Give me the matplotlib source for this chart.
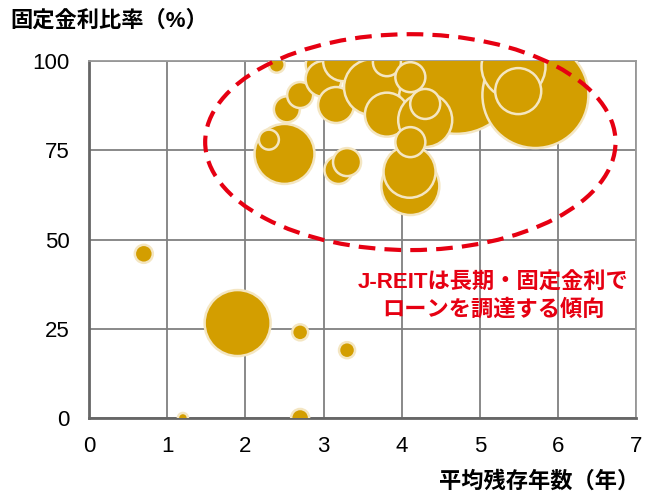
import matplotlib
matplotlib.use('agg')
from matplotlib import pyplot as plt
from matplotlib.patches import Ellipse

plt.rcParams['font.family'] = ['Liberation Sans', 'Noto Sans CJK JP', 'DejaVu Sans']

# average remaining years, fixed-rate ratio (%), relative bubble size
years = [0.7, 1.9, 2.7, 3.3, 1.2, 2.7, 2.4, 2.5, 2.3, 2.53, 2.7, 2.95,
         3.0, 3.25, 3.16, 3.19, 3.3, 4.7, 5.71, 5.43, 3.62, 3.81, 3.81, 4.11,
         4.3, 4.3, 4.11, 4.1, 4.11, 5.49]
fixed_ratio = [46, 26.6, 24, 19, 0, 0, 99, 74, 78, 86.5, 90.5, 99,
               95, 100, 87.7, 69.5, 71.7, 97, 90.5, 98.5, 92.7, 85, 99.7, 95.5,
               83.5, 88, 65, 69, 77.3, 91.6]
bubble = [9, 33, 8, 8, 5, 9, 8, 30, 10, 13, 13, 14,
          18, 20, 18, 14, 14, 62, 53, 32, 28, 22, 14, 15,
          27, 15, 29, 26, 15, 23]

x_ticks = [0, 1, 2, 3, 4, 5, 6, 7]
y_ticks = [0, 25, 50, 75, 100]

fig = plt.figure(figsize=(6.6, 4.97), dpi=100)
ax = fig.add_axes([0.135, 0.159, 0.829, 0.718])

sizes = [(1.44 * b) ** 2 for b in bubble]
ax.scatter(years, fixed_ratio, s=sizes, color='#D39E00', edgecolors='#F4E6C2',
           linewidths=1.8, zorder=3)

ax.set_xlim(0, 7)
ax.set_ylim(0, 100)
ax.set_xticks(x_ticks)
ax.set_yticks(y_ticks)
ax.tick_params(length=0, labelsize=16)
ax.tick_params(axis='y', pad=14)
ax.tick_params(axis='x', pad=13)
ax.grid(True, color='#808080', linewidth=1.3, zorder=0)
for side in ['left', 'bottom']:
    ax.spines[side].set_color('#666666')
    ax.spines[side].set_linewidth(2)
for side in ['top', 'right']:
    ax.spines[side].set_color('#999999')
    ax.spines[side].set_linewidth(1.3)

ell = Ellipse((4.11, 77.3), 5.25, 60.5, fill=False, edgecolor='#E60012',
              linewidth=3, linestyle=(0, (4, 2.2)), clip_on=False, zorder=5)
ax.add_patch(ell)

ax.text(5.17, 34.0, 'J-REITは長期・固定金利で\nローンを調達する傾向', color='#E60012',
        fontsize=16, fontweight='bold', ha='center', va='center',
        linespacing=1.3, zorder=6)

fig.text(0.016, 0.958, '固定金利比率（%）', fontsize=16, fontweight='bold',
         ha='left', va='center')
fig.text(0.968, 0.03, '平均残存年数（年）', fontsize=16, fontweight='bold',
         ha='right', va='center')

plt.savefig('out.png', dpi=100)
